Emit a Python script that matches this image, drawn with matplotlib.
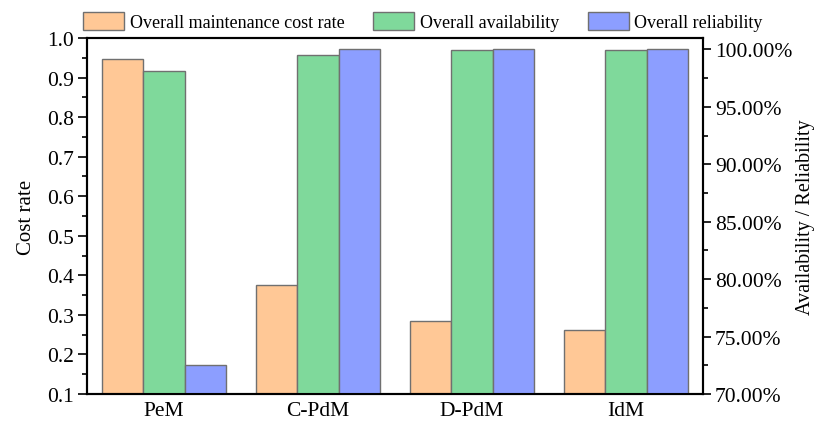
import matplotlib
matplotlib.use("Agg")
import matplotlib.pyplot as plt
import numpy as np
from matplotlib.ticker import MultipleLocator, FormatStrFormatter
from matplotlib.patches import Patch

plt.rcParams["font.family"] = ["Liberation Serif", "DejaVu Serif"]

strategies = ["PeM", "C-PdM", "D-PdM", "IdM"]
cost_rate = [0.948, 0.376, 0.284, 0.261]
availability = [98.10, 99.48, 99.95, 99.99]      # percent
reliability = [72.50, 100.00, 100.00, 100.00]    # percent

c_cost = "#FFC896"
c_avail = "#7FD99B"
c_rel = "#8C9EFF"
edge = "#707070"

fig = plt.figure(figsize=(8.16, 4.27), dpi=100)
ax = fig.add_axes([0.1066, 0.0749, 0.7549, 0.8338])
ax2 = ax.twinx()

x = np.arange(len(strategies))
w = 0.8 / 3

ax.bar(x - w, cost_rate, w, color=c_cost, edgecolor=edge, linewidth=1.0, zorder=2)
ax2.bar(x, availability, w, color=c_avail, edgecolor=edge, linewidth=1.0, zorder=2)
ax2.bar(x + w, reliability, w, color=c_rel, edgecolor=edge, linewidth=1.0, zorder=2)

ax.set_xlim(-0.5, len(strategies) - 0.5)
ax.set_ylim(0.1, 1.0)
ax2.set_ylim(70, 101)

ax.set_xticks(x)
ax.set_xticklabels(strategies, fontsize=15.5)
ax.tick_params(axis="x", length=0, pad=5)

ax.yaxis.set_major_locator(MultipleLocator(0.1))
ax.yaxis.set_minor_locator(MultipleLocator(0.05))
ax.yaxis.set_major_formatter(FormatStrFormatter("%.1f"))
ax.tick_params(axis="y", which="major", length=6.5, width=1.2, labelsize=15.5, pad=3)
ax.tick_params(axis="y", which="minor", length=3.5, width=1.2)

ax2.yaxis.set_major_locator(MultipleLocator(5))
ax2.yaxis.set_minor_locator(MultipleLocator(2.5))
ax2.yaxis.set_major_formatter(FormatStrFormatter("%.2f%%"))
ax2.tick_params(axis="y", which="major", length=5.5, width=1.2, labelsize=15.5, pad=3)
ax2.tick_params(axis="y", which="minor", length=3.5, width=1.2)

for a in (ax, ax2):
    for s in a.spines.values():
        s.set_linewidth(1.5)
        s.set_color("black")

ax.set_ylabel("Cost rate", fontsize=15, labelpad=8)
ax2.set_ylabel("Availability / Reliability", fontsize=14.5, labelpad=3)

handles = [
    Patch(facecolor=c_cost, edgecolor=edge, label="Overall maintenance cost rate"),
    Patch(facecolor=c_avail, edgecolor=edge, label="Overall availability"),
    Patch(facecolor=c_rel, edgecolor=edge, label="Overall reliability"),
]
fig.legend(handles=handles, loc="center left", bbox_to_anchor=(0.102, 0.947),
           ncol=3, frameon=False, fontsize=13, handlelength=2.27, handleheight=1.17,
           handletextpad=0.3, columnspacing=1.6, borderpad=0, borderaxespad=0)

fig.savefig("out.png", dpi=100)
